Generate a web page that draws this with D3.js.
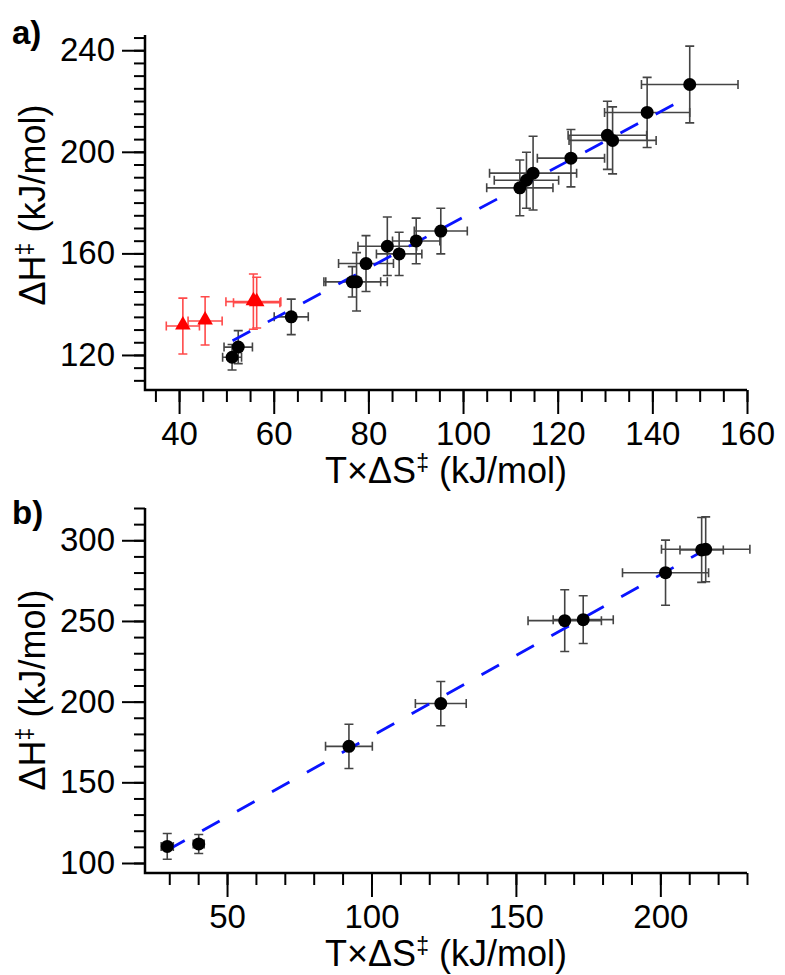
<!DOCTYPE html>
<html>
<head>
<meta charset="utf-8">
<script src="https://cdn.jsdelivr.net/npm/d3@7"></script>
<style>
  body { margin: 0; background: #fff; }
  text { font-family: Arial, "Liberation Sans", sans-serif; }
</style>
</head>
<body>
<div id="chart"></div>
<script>
// ---- panel a: black circles ----
const aX    = [51.2, 52.5, 63.7, 76.6, 77.5, 79.5, 84.0, 86.5, 90.1, 95.3, 112.0, 113.4, 114.8, 122.8, 130.5, 131.6, 138.9, 147.9];
const aY    = [119.1, 123.1, 135.0, 148.8, 148.8, 156.0, 162.8, 159.8, 164.9, 168.8, 185.8, 188.8, 191.6, 197.5, 206.5, 204.5, 215.5, 226.5];
const aXErr = [2.0, 3.0, 3.6, 6.0, 6.5, 5.8, 6.2, 4.8, 5.0, 5.6, 7.0, 6.8, 9.2, 7.1, 8.3, 9.2, 9.0, 10.2];
const aYErr = [5.0, 6.5, 7.0, 6.0, 11.5, 11.0, 11.5, 8.5, 9.0, 9.0, 11.0, 11.0, 14.5, 11.3, 13.4, 13.2, 13.8, 15.1];

// ---- panel a: red triangles ----
const aRedX    = [40.8, 45.5, 55.7, 56.4];
const aRedY    = [131.4, 133.4, 141.0, 140.6];
const aRedXErr = [3.5, 3.6, 5.8, 4.9];
const aRedYErr = [11.0, 9.5, 10.9, 10.0];

// ---- panel a: linear fit ----
const aFitX = [51.3, 147.9];
const aFitSlope = 0.998;
const aFitIntercept = 74.4;

// ---- panel b ----
const bX    = [29.3, 40.2, 92.2, 124.0, 166.9, 173.3, 201.8, 214.3, 215.7];
const bY    = [110.3, 111.8, 172.3, 198.8, 250.2, 250.8, 279.9, 294.0, 294.4];
const bXErr = [2.1, 1.9, 8.1, 8.8, 12.7, 10.4, 14.9, 7.5, 15.3];
const bYErr = [8.0, 5.9, 13.7, 13.7, 19.1, 14.8, 20.2, 20.1, 20.1];

const bFitX = [29.3, 214.3];
const bFitSlope = 1.0;
const bFitIntercept = 78.6;

// ---- ticks ----
const aXTicks = [40, 60, 80, 100, 120, 140, 160];
const aYTicks = [120, 160, 200, 240];
const bXTicks = [50, 100, 150, 200];
const bYTicks = [100, 150, 200, 250, 300];

const svg = d3.select("#chart")
    .append("svg")
    .attr("width", 785)
    .attr("height", 975);

const tickFont = 33;
const titleFont = 36;

function titleText(g, prefix, x, y, rotate) {
    const t = g.append("text")
        .attr("font-size", titleFont)
        .attr("text-anchor", "middle")
        .attr("transform", "translate(" + x + "," + y + ")" + (rotate ? " rotate(-90)" : ""));
    t.append("tspan").text(prefix);
    t.append("tspan").attr("font-size", 23).attr("dy", -12).text("\u2021");
    t.append("tspan").attr("dy", 12).text(" (kJ/mol)");
}

function drawPanel(p) {
    const g = svg.append("g");

    const x = d3.scaleLinear().domain(p.xDomain).range([p.left, p.right]);
    const y = d3.scaleLinear().domain(p.yDomain).range([p.bottom, p.top]);

    // minor ticks
    g.append("g")
        .attr("transform", "translate(0," + p.bottom + ")")
        .call(d3.axisBottom(x).tickValues(d3.range(p.xMinor[0], p.xMinor[1] + 0.01, p.xMinor[2])).tickSize(12).tickFormat(""))
        .call(a => a.select(".domain").remove())
        .call(a => a.selectAll("line").attr("stroke-width", 2));
    g.append("g")
        .attr("transform", "translate(" + p.left + ",0)")
        .call(d3.axisLeft(y).tickValues(d3.range(p.yMinor[0], p.yMinor[1] + 0.01, p.yMinor[2])).tickSize(11).tickFormat(""))
        .call(a => a.select(".domain").remove())
        .call(a => a.selectAll("line").attr("stroke-width", 2));

    // major ticks + labels
    g.append("g")
        .attr("transform", "translate(0," + p.bottom + ")")
        .call(d3.axisBottom(x).tickValues(p.xTicks).tickSize(24).tickPadding(8))
        .call(a => a.select(".domain").remove())
        .call(a => a.selectAll("line").attr("stroke-width", 2))
        .call(a => a.selectAll("text").attr("font-size", tickFont).attr("fill", "#000").attr("font-family", "Arial, 'Liberation Sans', sans-serif"));
    g.append("g")
        .attr("transform", "translate(" + p.left + ",0)")
        .call(d3.axisLeft(y).tickValues(p.yTicks).tickSize(23).tickPadding(7))
        .call(a => a.select(".domain").remove())
        .call(a => a.selectAll("line").attr("stroke-width", 2))
        .call(a => a.selectAll("text").attr("font-size", tickFont).attr("fill", "#000").attr("font-family", "Arial, 'Liberation Sans', sans-serif"));

    // axis lines (left + bottom only)
    g.append("path")
        .attr("d", "M" + p.left + "," + p.top + "V" + p.bottom + "H" + p.right)
        .attr("fill", "none")
        .attr("stroke", "#000")
        .attr("stroke-width", 2.5);

    // error bars
    function errorBars(xs, ys, xe, ye, color) {
        const cap = 4.5;
        const eb = g.append("g").attr("stroke", color).attr("stroke-width", 1.6).attr("fill", "none");
        xs.forEach((xv, i) => {
            const cx = x(xv), cy = y(ys[i]);
            const x0 = x(xv - xe[i]), x1 = x(xv + xe[i]);
            const y0 = y(ys[i] - ye[i]), y1 = y(ys[i] + ye[i]);
            eb.append("path").attr("d",
                "M" + x0 + "," + cy + "H" + x1 +
                "M" + x0 + "," + (cy - cap) + "V" + (cy + cap) +
                "M" + x1 + "," + (cy - cap) + "V" + (cy + cap) +
                "M" + cx + "," + y0 + "V" + y1 +
                "M" + (cx - cap) + "," + y0 + "H" + (cx + cap) +
                "M" + (cx - cap) + "," + y1 + "H" + (cx + cap));
        });
    }

    errorBars(p.xs, p.ys, p.xe, p.ye, "#444");
    if (p.redX) errorBars(p.redX, p.redY, p.redXe, p.redYe, "#ff4a4a");

    // fit line
    const line = d3.line().x(d => x(d)).y(d => y(p.slope * d + p.intercept));
    g.append("path")
        .datum(p.fitX)
        .attr("d", line)
        .attr("fill", "none")
        .attr("stroke", "#0a14ff")
        .attr("stroke-width", 2.8)
        .attr("stroke-dasharray", "20,20");

    // markers
    g.append("g").selectAll("circle")
        .data(p.xs)
        .enter().append("circle")
        .attr("cx", d => x(d))
        .attr("cy", (d, i) => y(p.ys[i]))
        .attr("r", 6.5)
        .attr("fill", "#000");

    if (p.redX) {
        const tri = d3.symbol().type(d3.symbolTriangle).size(105);
        g.append("g").selectAll("path")
            .data(p.redX)
            .enter().append("path")
            .attr("d", tri)
            .attr("transform", (d, i) => "translate(" + x(d) + "," + (y(p.redY[i]) - 1) + ")")
            .attr("fill", "#ff0000");
    }

    // titles
    titleText(g, "T\u00d7\u0394S", (p.left + p.right) / 2, p.bottom + 93, false);
    titleText(g, "\u0394H", 45, p.yTitleY, true);

    g.append("text")
        .attr("x", 12)
        .attr("y", p.labelY)
        .attr("font-size", 33)
        .attr("font-weight", "bold")
        .text(p.label);
}

drawPanel({
    label: "a)", labelY: 44, yTitleY: 205,
    left: 145, right: 747, top: 35, bottom: 390,
    xDomain: [32.8, 160], yDomain: [106.2, 246],
    xTicks: aXTicks, yTicks: aYTicks,
    xMinor: [35, 160, 5], yMinor: [110, 245, 5],
    xs: aX, ys: aY, xe: aXErr, ye: aYErr,
    redX: aRedX, redY: aRedY, redXe: aRedXErr, redYe: aRedYErr,
    fitX: aFitX, slope: aFitSlope, intercept: aFitIntercept
});

drawPanel({
    label: "b)", labelY: 524, yTitleY: 690,
    left: 145, right: 747, top: 508, bottom: 873,
    xDomain: [21.6, 230], yDomain: [93.8, 320],
    xTicks: bXTicks, yTicks: bYTicks,
    xMinor: [30, 230, 10], yMinor: [100, 320, 10],
    xs: bX, ys: bY, xe: bXErr, ye: bYErr,
    fitX: bFitX, slope: bFitSlope, intercept: bFitIntercept
});
</script>
</body>
</html>
